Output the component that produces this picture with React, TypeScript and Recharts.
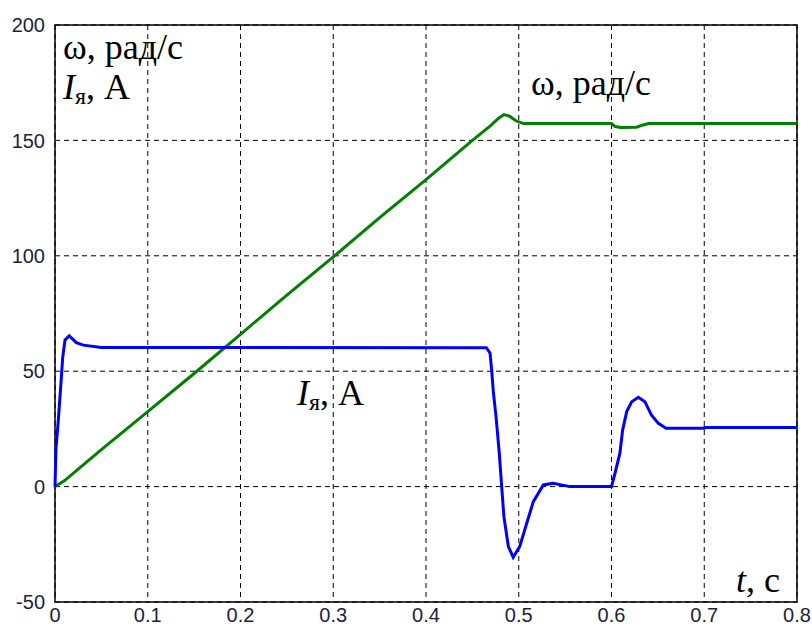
import { LineChart, Line, XAxis, YAxis, CartesianGrid, ReferenceArea } from "recharts";

// speed ω, rad/s
const omegaTime = [0, 0.01, 0.05, 0.1, 0.15, 0.2, 0.25, 0.3, 0.35, 0.4, 0.45, 0.47, 0.478, 0.484, 0.49, 0.497, 0.505, 0.6, 0.604, 0.61, 0.627, 0.634, 0.64, 0.8];
const omegaValues = [0, 2.5, 16, 32.5, 49, 66, 83, 99.5, 116.5, 133, 150, 156.5, 159.5, 161.2, 160.5, 158.5, 157.3, 157.3, 156, 155.6, 155.7, 156.7, 157.3, 157.3];

// armature current Iя, A
const currentTime = [0, 0.001, 0.0036, 0.0061, 0.0083, 0.0108, 0.0154, 0.023, 0.0305, 0.05, 0.465, 0.469, 0.4708, 0.4726, 0.4755, 0.479, 0.4816, 0.484, 0.4888, 0.494, 0.501, 0.5086, 0.5157, 0.5265, 0.537, 0.555, 0.6, 0.6038, 0.609, 0.612, 0.6164, 0.6218, 0.629, 0.636, 0.643, 0.6505, 0.6588, 0.7, 0.7005, 0.8];
const currentValues = [0, 16, 29, 43, 56, 63.5, 65.3, 62.4, 61.3, 60.3, 60.2, 57.9, 50.5, 41, 30.3, 14.5, 0, -13, -26, -30.6, -26, -15.9, -6.5, 0.7, 1.4, 0, 0, 5.8, 14.4, 24.5, 32.5, 36.8, 38.7, 36.8, 31, 27.4, 25.3, 25.3, 25.6, 25.6];

const xTicks = [0, 0.1, 0.2, 0.3, 0.4, 0.5, 0.6, 0.7, 0.8];
const yTicks = [-50, 0, 50, 100, 150, 200];

const W = 812;
const H = 630;

const TICK = { fontSize: 20, fill: "#1e1e3c", fontFamily: "'Liberation Sans', Arial, sans-serif" };
const SERIF = "'Liberation Serif', 'Times New Roman', serif";

function CurrentLabel({ x, y }: { x: number; y: number }) {
  return (
    <text x={x} y={y} fontSize={36}>
      <tspan fontStyle="italic">I</tspan>
      <tspan fontSize={24} dy={5}>я</tspan>
      <tspan dy={-5}>, А</tspan>
    </text>
  );
}

export default function App() {
  const omegaData = omegaTime.map((t, i) => ({ t, w: omegaValues[i] }));
  const currentData = currentTime.map((t, i) => ({ t, i: currentValues[i] }));

  return (
    <div style={{ position: "absolute", left: 0, top: 0, width: W, height: H, background: "#fff" }}>
      <LineChart width={W} height={H} margin={{ top: 25, right: 15, left: 0, bottom: 0 }}>
        <CartesianGrid stroke="#000" strokeDasharray="5 4" strokeWidth={1} />
        <XAxis
          type="number"
          dataKey="t"
          domain={[0, 0.8]}
          ticks={xTicks}
          tickFormatter={(v) => String(v)}
          tick={TICK}
          tickLine={false}
          tickSize={0}
          tickMargin={6}
          axisLine={false}
          height={28}
          allowDuplicatedCategory={false}
        />
        <YAxis
          type="number"
          domain={[-50, 200]}
          ticks={yTicks}
          tick={TICK}
          tickLine={false}
          tickSize={0}
          tickMargin={10}
          axisLine={false}
          width={55}
        />
        <ReferenceArea x1={0} x2={0.8} y1={-50} y2={200} fill="none" stroke="#000" strokeWidth={1.5} />
        <Line data={omegaData} dataKey="w" type="linear" stroke="#008000" strokeWidth={3} dot={false} isAnimationActive={false} />
        <Line data={currentData} dataKey="i" type="linear" stroke="#0000ff" strokeWidth={3} dot={false} isAnimationActive={false} />
      </LineChart>
      <svg width={W} height={H} style={{ position: "absolute", left: 0, top: 0, pointerEvents: "none" }}>
        <g fontFamily={SERIF} fill="#000">
          <text x={63} y={59} fontSize={36}>ω, рад/с</text>
          <CurrentLabel x={63} y={99} />
          <text x={531} y={95} fontSize={36}>ω, рад/с</text>
          <CurrentLabel x={297} y={405} />
          <text x={736} y={592} fontSize={36}>
            <tspan fontStyle="italic">t</tspan>, с
          </text>
        </g>
      </svg>
    </div>
  );
}
